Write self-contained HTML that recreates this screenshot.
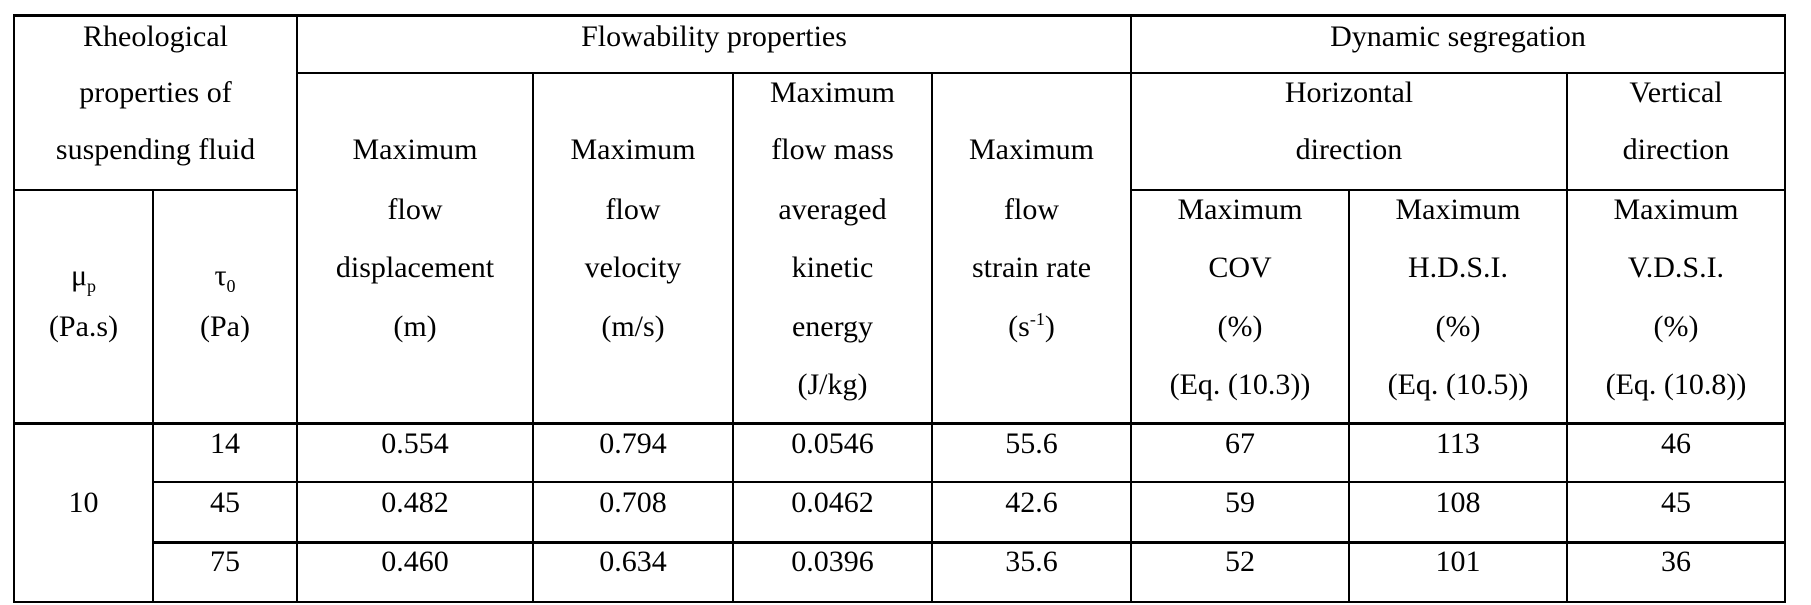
<!DOCTYPE html>
<html><head><meta charset="utf-8"><style>
html,body{margin:0;padding:0;background:#fff;}
#c{position:relative;width:1811px;height:605px;overflow:hidden;font-family:"Liberation Serif",serif;font-size:30px;color:#000;}
.h{position:absolute;background:#000;height:2px;}
.v{position:absolute;background:#000;width:2px;}
.t{position:absolute;text-align:center;line-height:58px;height:58px;white-space:nowrap;}
sub,sup{font-size:18px;line-height:0;}
</style></head><body><div id="c">
<div class="v" style="left:13px;top:14px;height:589px"></div>
<div class="v" style="left:152px;top:190px;height:413px"></div>
<div class="v" style="left:296px;top:14px;height:589px"></div>
<div class="v" style="left:532px;top:73px;height:530px"></div>
<div class="v" style="left:732px;top:73px;height:530px"></div>
<div class="v" style="left:931px;top:73px;height:530px"></div>
<div class="v" style="left:1130px;top:14px;height:589px"></div>
<div class="v" style="left:1348px;top:190px;height:413px"></div>
<div class="v" style="left:1566px;top:73px;height:530px"></div>
<div class="v" style="left:1784px;top:14px;height:589px"></div>
<div class="h" style="left:13px;top:14px;width:1773px;height:3px"></div>
<div class="h" style="left:296px;top:72px;width:1490px"></div>
<div class="h" style="left:13px;top:189px;width:285px"></div>
<div class="h" style="left:1130px;top:189px;width:656px"></div>
<div class="h" style="left:13px;top:422px;width:1773px;height:3px"></div>
<div class="h" style="left:152px;top:481px;width:1634px"></div>
<div class="h" style="left:152px;top:541px;width:1634px;height:3px"></div>
<div class="h" style="left:13px;top:601px;width:1773px"></div>

<div class="t" style="left:14px;width:283px;top:8px">Rheological</div>
<div class="t" style="left:14px;width:283px;top:64px">properties of</div>
<div class="t" style="left:14px;width:283px;top:121px">suspending fluid</div>
<div class="t" style="left:14px;width:139px;top:247px">μ<sub>p</sub></div>
<div class="t" style="left:14px;width:139px;top:298px">(Pa.s)</div>
<div class="t" style="left:153px;width:144px;top:247px">τ<sub>0</sub></div>
<div class="t" style="left:153px;width:144px;top:298px">(Pa)</div>

<div class="t" style="left:297px;width:834px;top:8px">Flowability properties</div>
<div class="t" style="left:297px;width:236px;top:121px">Maximum</div>
<div class="t" style="left:297px;width:236px;top:181px">flow</div>
<div class="t" style="left:297px;width:236px;top:239px">displacement</div>
<div class="t" style="left:297px;width:236px;top:298px">(m)</div>
<div class="t" style="left:533px;width:200px;top:121px">Maximum</div>
<div class="t" style="left:533px;width:200px;top:181px">flow</div>
<div class="t" style="left:533px;width:200px;top:239px">velocity</div>
<div class="t" style="left:533px;width:200px;top:298px">(m/s)</div>
<div class="t" style="left:733px;width:199px;top:64px">Maximum</div>
<div class="t" style="left:733px;width:199px;top:121px">flow mass</div>
<div class="t" style="left:733px;width:199px;top:181px">averaged</div>
<div class="t" style="left:733px;width:199px;top:239px">kinetic</div>
<div class="t" style="left:733px;width:199px;top:298px">energy</div>
<div class="t" style="left:733px;width:199px;top:356px">(J/kg)</div>
<div class="t" style="left:932px;width:199px;top:121px">Maximum</div>
<div class="t" style="left:932px;width:199px;top:181px">flow</div>
<div class="t" style="left:932px;width:199px;top:239px">strain rate</div>
<div class="t" style="left:932px;width:199px;top:298px">(s<sup>-1</sup>)</div>

<div class="t" style="left:1131px;width:654px;top:8px">Dynamic segregation</div>
<div class="t" style="left:1131px;width:436px;top:64px">Horizontal</div>
<div class="t" style="left:1131px;width:436px;top:121px">direction</div>
<div class="t" style="left:1567px;width:218px;top:64px">Vertical</div>
<div class="t" style="left:1567px;width:218px;top:121px">direction</div>
<div class="t" style="left:1131px;width:218px;top:181px">Maximum</div>
<div class="t" style="left:1131px;width:218px;top:239px">COV</div>
<div class="t" style="left:1131px;width:218px;top:298px">(%)</div>
<div class="t" style="left:1131px;width:218px;top:356px">(Eq. (10.3))</div>
<div class="t" style="left:1349px;width:218px;top:181px">Maximum</div>
<div class="t" style="left:1349px;width:218px;top:239px">H.D.S.I.</div>
<div class="t" style="left:1349px;width:218px;top:298px">(%)</div>
<div class="t" style="left:1349px;width:218px;top:356px">(Eq. (10.5))</div>
<div class="t" style="left:1567px;width:218px;top:181px">Maximum</div>
<div class="t" style="left:1567px;width:218px;top:239px">V.D.S.I.</div>
<div class="t" style="left:1567px;width:218px;top:298px">(%)</div>
<div class="t" style="left:1567px;width:218px;top:356px">(Eq. (10.8))</div>

<div class="t" style="left:14px;width:139px;top:474px">10</div>

<div class="t" style="left:153px;width:144px;top:415px">14</div>
<div class="t" style="left:297px;width:236px;top:415px">0.554</div>
<div class="t" style="left:533px;width:200px;top:415px">0.794</div>
<div class="t" style="left:733px;width:199px;top:415px">0.0546</div>
<div class="t" style="left:932px;width:199px;top:415px">55.6</div>
<div class="t" style="left:1131px;width:218px;top:415px">67</div>
<div class="t" style="left:1349px;width:218px;top:415px">113</div>
<div class="t" style="left:1567px;width:218px;top:415px">46</div>

<div class="t" style="left:153px;width:144px;top:474px">45</div>
<div class="t" style="left:297px;width:236px;top:474px">0.482</div>
<div class="t" style="left:533px;width:200px;top:474px">0.708</div>
<div class="t" style="left:733px;width:199px;top:474px">0.0462</div>
<div class="t" style="left:932px;width:199px;top:474px">42.6</div>
<div class="t" style="left:1131px;width:218px;top:474px">59</div>
<div class="t" style="left:1349px;width:218px;top:474px">108</div>
<div class="t" style="left:1567px;width:218px;top:474px">45</div>

<div class="t" style="left:153px;width:144px;top:533px">75</div>
<div class="t" style="left:297px;width:236px;top:533px">0.460</div>
<div class="t" style="left:533px;width:200px;top:533px">0.634</div>
<div class="t" style="left:733px;width:199px;top:533px">0.0396</div>
<div class="t" style="left:932px;width:199px;top:533px">35.6</div>
<div class="t" style="left:1131px;width:218px;top:533px">52</div>
<div class="t" style="left:1349px;width:218px;top:533px">101</div>
<div class="t" style="left:1567px;width:218px;top:533px">36</div>
</div></body></html>
